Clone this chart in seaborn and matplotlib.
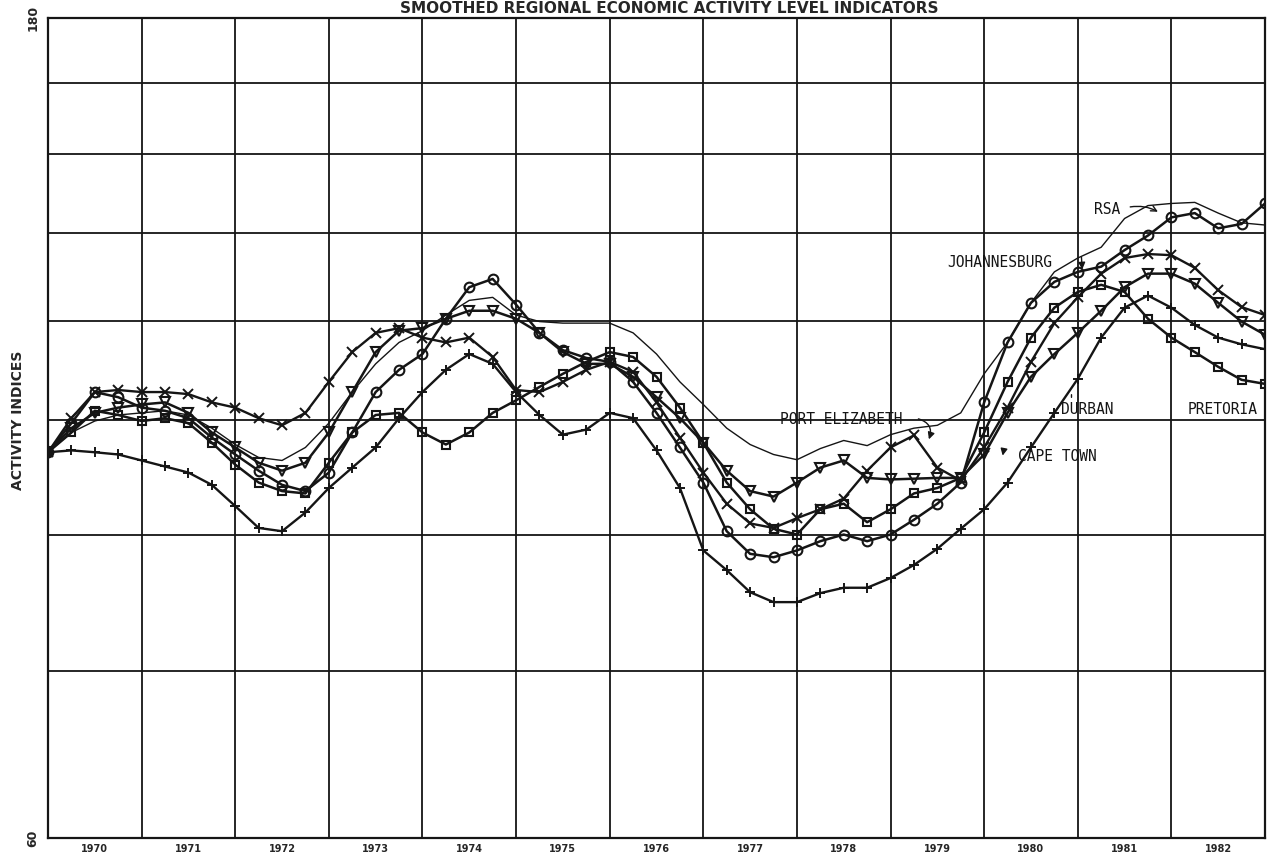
import numpy as np
import pandas as pd
import matplotlib
matplotlib.use("Agg")
import matplotlib.pyplot as plt
from matplotlib.ticker import NullLocator
import seaborn as sns

# ── Data (quarterly, activity index, log scale) ──────────────────────
quarters = np.arange(1970.0, 1983.01, 0.25)

rsa = [100.6, 103.3, 104.9, 105.75, 106.05, 106.35, 105.75, 103.9,
       101.65, 99.9, 99.5, 101.25, 104.6, 109.05, 113.25, 116.55,
       118.4, 120.9, 123.3, 123.8, 120.9, 119.85, 119.6, 119.6,
       119.6, 118.05, 114.75, 110.55, 107.25, 103.9, 101.65, 100.3,
       99.6, 101.1, 102.2, 101.5, 103.0, 103.9, 104.3, 106.05,
       111.75, 116.55, 122.9, 128.1, 130.5, 132.4, 137.6, 140.0,
       140.4, 140.6, 138.6, 136.8, 136.4]

johannesburg = [100.6, 104.6, 109.05, 108.3, 106.8, 106.35, 105.3, 102.6,
                100.3, 98.15, 96.3, 95.5, 97.9, 103.3, 109.05, 112.35,
                114.75, 120.3, 125.5, 126.9, 122.6, 118.05, 115.35, 114.15,
                113.55, 110.55, 106.05, 101.25, 96.6, 90.5, 87.8, 87.4,
                88.2, 89.3, 90.1, 89.3, 90.1, 91.9, 93.9, 96.6,
                107.55, 116.55, 122.9, 126.4, 128.1, 129.0, 131.9, 134.5,
                137.8, 138.6, 135.8, 136.6, 140.4]

pretoria = [100.6, 103.3, 106.35, 105.75, 104.9, 105.3, 104.6, 101.9,
            98.95, 96.6, 95.5, 95.2, 99.2, 103.3, 105.75, 106.05,
            103.3, 101.65, 103.3, 106.05, 107.85, 109.8, 111.75, 113.55,
            115.05, 114.3, 111.3, 106.8, 101.9, 96.6, 93.2, 90.8,
            90.1, 93.2, 93.9, 91.6, 93.2, 95.2, 95.9, 97.2,
            103.3, 110.55, 117.3, 122.1, 124.7, 125.9, 124.7, 120.3,
            117.3, 115.05, 112.8, 110.85, 110.25]

durban = [100.6, 103.9, 106.05, 106.8, 107.25, 107.55, 106.05, 103.3,
          101.25, 99.2, 98.15, 99.2, 103.3, 109.05, 115.05, 118.4,
          118.8, 120.3, 121.6, 121.6, 120.3, 118.05, 115.05, 113.25,
          113.25, 111.3, 108.3, 105.3, 101.9, 98.15, 95.5, 94.8,
          96.6, 98.55, 99.5, 97.2, 97.0, 97.1, 97.2, 97.2,
          100.3, 106.05, 111.3, 114.75, 118.05, 121.6, 125.5, 127.8,
          127.8, 126.1, 122.9, 119.85, 117.75]

cape_town = [100.6, 100.85, 100.6, 100.3, 99.5, 98.7, 97.9, 96.3,
             93.6, 90.9, 90.5, 92.8, 95.9, 98.55, 101.25, 105.3,
             109.05, 112.35, 114.75, 113.25, 109.05, 105.75, 103.0, 103.7,
             106.05, 105.3, 100.85, 95.9, 88.2, 85.9, 83.4, 82.3,
             82.3, 83.3, 83.9, 83.9, 85.0, 86.5, 88.4, 90.8,
             93.2, 96.6, 101.25, 106.05, 111.0, 117.3, 122.1, 124.1,
             122.1, 119.3, 117.3, 116.25, 115.5]

port_elizabeth = [100.6, 105.3, 109.05, 109.35, 109.05, 109.05, 108.75, 107.55,
                  106.8, 105.3, 104.3, 106.05, 110.55, 115.05, 118.05, 118.8,
                  117.3, 116.55, 117.3, 114.3, 109.35, 109.05, 110.55, 112.35,
                  113.55, 112.05, 107.55, 102.6, 97.9, 93.9, 91.45, 90.9,
                  92.1, 93.2, 94.55, 98.15, 101.25, 102.9, 98.55, 96.85,
                  101.25, 106.8, 113.55, 119.6, 123.8, 127.8, 130.5, 131.2,
                  131.0, 128.8, 125.0, 122.2, 120.9]

year_labels = [str(y) for y in range(1970, 1983)]
grid_values = [60, 75, 90, 105, 120, 135, 150, 165, 180]

# ── Style ─────────────────────────────────────────────────────────────
sns.set_style("white")
plt.rcParams['font.family'] = ['DejaVu Sans']
ink = '#151515'

fig = plt.figure(figsize=(12.68, 8.61), dpi=100)
ax = fig.add_axes([48 / 1268, 23 / 861, 1217 / 1268, 820 / 861])

mk = dict(mfc='none', mec=ink)
series = [
    (rsa, dict(marker=None, lw=1.0)),
    (johannesburg, dict(marker='o', ms=7, mew=1.5, lw=1.8, **mk)),
    (pretoria, dict(marker='s', ms=6, mew=1.5, lw=1.8, **mk)),
    (durban, dict(marker='v', ms=7, mew=1.5, lw=1.8, **mk)),
    (cape_town, dict(marker='+', ms=7, mew=1.4, lw=1.7, **mk)),
    (port_elizabeth, dict(marker='x', ms=7, mew=1.4, lw=1.7, **mk)),
]
for vals, kw in series:
    sns.lineplot(x=quarters, y=vals, ax=ax, color=ink, **kw)

# ── Axes ──────────────────────────────────────────────────────────────
ax.set_yscale('log')
ax.set_ylim(60, 180)
ax.set_xlim(1970, 1983)
ax.yaxis.set_minor_locator(NullLocator())
ax.set_yticks(grid_values)
ax.set_yticklabels(['60'] + [''] * 7 + ['180'], rotation=90, va='center',
                   fontweight='bold', fontsize=9)
ax.set_xticks(range(1970, 1984))
ax.set_xticklabels([''] * 14)
ax.set_xticks([y + 0.5 for y in range(1970, 1983)], minor=True)
ax.set_xticklabels(year_labels, minor=True, fontweight='bold', fontsize=7)
ax.tick_params(axis='both', which='major', length=0, pad=6)
ax.tick_params(axis='x', which='minor', direction='in', length=4, width=1, pad=4)
ax.grid(True, which='major', color=ink, lw=1.3)
ax.set_xlabel('')
ax.set_ylabel('')
for s in ax.spines.values():
    s.set_color(ink)
    s.set_linewidth(1.6)

fig.text(18 / 1268, 1 - 420 / 861, 'ACTIVITY INDICES', rotation=90,
         ha='center', va='center', fontweight='bold', fontsize=10)
fig.text(0.528, 0.999, 'SMOOTHED REGIONAL ECONOMIC ACTIVITY LEVEL INDICATORS',
         ha='center', va='top', fontweight='bold', fontsize=11)

# ── Region labels ─────────────────────────────────────────────────────
lab = dict(transform=ax.transAxes, ha='center', va='center',
           family='DejaVu Sans Mono', fontsize=10.5, color=ink)
ax.text(0.870, 0.767, 'RSA', **lab)
ax.text(0.782, 0.702, 'JOHANNESBURG', **lab)
ax.text(0.652, 0.510, 'PORT ELIZABETH', **lab)
ax.text(0.854, 0.522, 'DURBAN', **lab)
ax.text(0.965, 0.522, 'PRETORIA', **lab)
ax.text(0.829, 0.465, 'CAPE TOWN', **lab)

arr = dict(xycoords='axes fraction', textcoords='axes fraction')
ax.annotate('', xy=(0.914, 0.762), xytext=(0.887, 0.769),
            arrowprops=dict(arrowstyle='->', color=ink, lw=1,
                            connectionstyle='arc3,rad=-0.2'), **arr)
ax.annotate('', xy=(0.850, 0.690), xytext=(0.849, 0.712),
            arrowprops=dict(arrowstyle='-|>', color=ink, lw=1), **arr)
ax.annotate('', xy=(0.723, 0.483), xytext=(0.713, 0.512),
            arrowprops=dict(arrowstyle='-|>', color=ink, lw=1,
                            connectionstyle='arc3,rad=-0.6'), **arr)
ax.annotate('', xy=(0.841, 0.534), xytext=(0.841, 0.544),
            arrowprops=dict(arrowstyle='-', color=ink, lw=1), **arr)
ax.annotate('', xy=(0.784, 0.463), xytext=(0.786, 0.478),
            arrowprops=dict(arrowstyle='-|>', color=ink, lw=1), **arr)

fig.savefig('out.png', dpi=100)
